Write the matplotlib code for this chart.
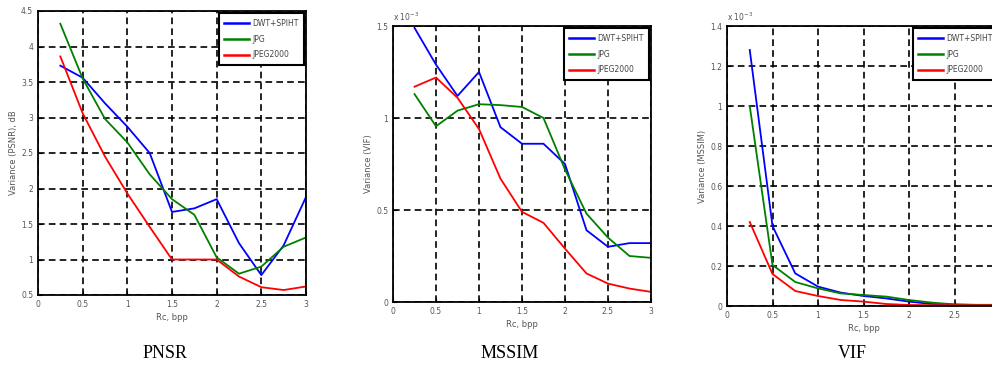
import matplotlib
matplotlib.use("Agg")
import matplotlib.pyplot as plt
import numpy as np

rates = [0.25, 0.5, 0.75, 1.0, 1.25, 1.5, 1.75, 2.0, 2.25, 2.5, 2.75, 3.0]
series_names = ["DWT+SPIHT", "JPG", "JPEG2000"]
series_colors = ["#0000ff", "#008000", "#ff0000"]

# Panel 1: Variance (PSNR), dB
psnr_dwt = [3.73, 3.56, 3.2, 2.87, 2.5, 1.67, 1.72, 1.85, 1.23, 0.78, 1.2, 1.88]
psnr_jpg = [4.32, 3.55, 2.98, 2.65, 2.2, 1.85, 1.63, 1.03, 0.8, 0.9, 1.18, 1.31]
psnr_j2k = [3.86, 3.06, 2.45, 1.93, 1.46, 1.0, 1.0, 1.0, 0.76, 0.61, 0.57, 0.62]

# Panel 2: Variance (VIF), x1e-3
vif_dwt = [1.49, 1.29, 1.12, 1.25, 0.95, 0.86, 0.86, 0.75, 0.39, 0.30, 0.32, 0.32]
vif_jpg = [1.13, 0.955, 1.04, 1.075, 1.07, 1.06, 1.0, 0.72, 0.48, 0.35, 0.25, 0.24]
vif_j2k = [1.17, 1.22, 1.11, 0.94, 0.67, 0.49, 0.43, 0.29, 0.155, 0.10, 0.073, 0.055]

# Panel 3: Variance (MSSIM), x1e-3
ms_dwt = [1.28, 0.40, 0.163, 0.097, 0.067, 0.05, 0.038, 0.022, 0.01, 0.007, 0.005, 0.005]
ms_jpg = [1.0, 0.205, 0.12, 0.088, 0.063, 0.055, 0.047, 0.03, 0.017, 0.008, 0.006, 0.006]
ms_j2k = [0.42, 0.16, 0.075, 0.05, 0.03, 0.022, 0.01, 0.005, 0.004, 0.004, 0.004, 0.004]

x_ticks = [0, 0.5, 1, 1.5, 2, 2.5, 3]
x_tick_labels = ["0", "0.5", "1", "1.5", "2", "2.5", "3"]
x_tick_labels_cut = ["0", "0.5", "1", "1.5", "2", "2.5", ""]

panels = [
    dict(pos=[38/992, 74/369, 268/992, 284/369], data=[psnr_dwt, psnr_jpg, psnr_j2k],
         ylim=(0.5, 4.5), yticks=[0.5, 1, 1.5, 2, 2.5, 3, 3.5, 4, 4.5],
         yticklabels=["0.5", "1", "1.5", "2", "2.5", "3", "3.5", "4", "4.5"],
         xticklabels=x_tick_labels,
         ylabel="Variance (PSNR), dB", title="PNSR", exp=None, title_x=165/992),
    dict(pos=[393/992, 67/369, 258/992, 276/369], data=[vif_dwt, vif_jpg, vif_j2k],
         ylim=(0, 1.5), yticks=[0, 0.5, 1, 1.5],
         yticklabels=["0", "0.5", "1", "1.5"],
         xticklabels=x_tick_labels,
         ylabel="Variance (VIF)", title="MSSIM", exp=r"x 10$^{-3}$", title_x=510/992),
    dict(pos=[727/992, 63/369, 273/992, 280/369], data=[ms_dwt, ms_jpg, ms_j2k],
         ylim=(0, 1.4), yticks=[0, 0.2, 0.4, 0.6, 0.8, 1.0, 1.2, 1.4],
         yticklabels=["0", "0.2", "0.4", "0.6", "0.8", "1", "1.2", "1.4"],
         xticklabels=x_tick_labels_cut,
         ylabel="Variance (MSSIM)", title="VIF", exp=r"x 10$^{-3}$", title_x=852/992),
]

fig = plt.figure(figsize=(9.92, 3.69), dpi=100)
fig.patch.set_facecolor("white")
tick_color = "#555555"

for p in panels:
    ax = fig.add_axes(p["pos"])
    for vals, name, col in zip(p["data"], series_names, series_colors):
        ax.plot(rates, vals, color=col, lw=1.3, label=name)
    ax.set_xlim(0, 3)
    ax.set_ylim(*p["ylim"])
    ax.set_xticks(x_ticks)
    ax.set_xticklabels(p["xticklabels"])
    ax.set_yticks(p["yticks"])
    ax.set_yticklabels(p["yticklabels"])
    ax.tick_params(direction="in", labelsize=5.5, labelcolor=tick_color, length=3, width=0.8)
    ax.grid(True, color="black", linestyle=(0, (4, 2.5)), linewidth=1.2)
    for s in ax.spines.values():
        s.set_linewidth(1.3)
    ax.set_xlabel("Rc, bpp", fontsize=6, color=tick_color, labelpad=3)
    ax.set_ylabel(p["ylabel"], fontsize=6, color=tick_color, labelpad=2)
    if p["exp"]:
        ax.text(0.0, 1.01, p["exp"], transform=ax.transAxes, fontsize=5.5,
                color=tick_color, ha="left", va="bottom")
    leg = ax.legend(loc="upper right", fontsize=5.5, frameon=True, fancybox=False,
                    framealpha=1, borderaxespad=0.3, handlelength=3.2, labelspacing=0.9,
                    borderpad=0.7, handletextpad=0.4)
    leg.get_frame().set_edgecolor("black")
    leg.get_frame().set_linewidth(1.5)
    for line in leg.get_lines():
        line.set_linewidth(1.8)
    for t in leg.get_texts():
        t.set_color("#444444")
    fig.text(p["title_x"], 16/369, p["title"], fontsize=13, family="Liberation Serif",
             ha="center", va="center")

fig.savefig("out.png", dpi=100)
